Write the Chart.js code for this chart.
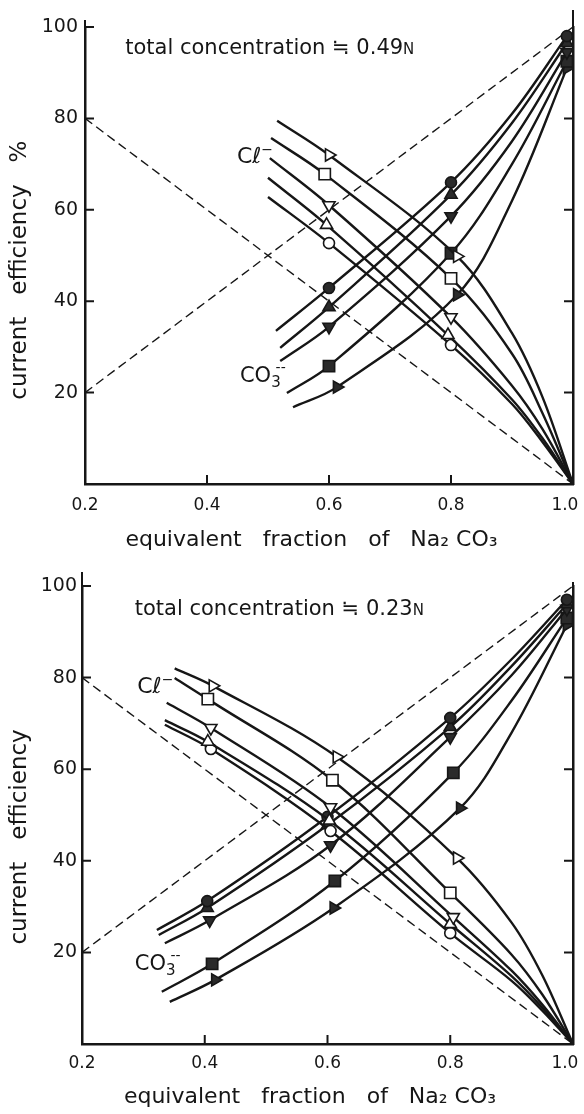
<!DOCTYPE html>
<html>
<head>
<meta charset="utf-8">
<script src="https://cdn.jsdelivr.net/npm/chart.js@4.4.1/dist/chart.umd.min.js"></script>
<style>
  html, body { margin: 0; padding: 0; background: #fff; }
  .box { position: relative; width: 584px; height: 557px; }
</style>
</head>
<body>
<div class="box"><canvas id="conc049"></canvas></div>
<div class="box"><canvas id="conc023"></canvas></div>
<script>
// axes shared by both panels
const xTicks = [0.2, 0.4, 0.6, 0.8, 1.0];
const yTicks = [20, 40, 60, 80, 100];
const innerXTicks = [0.4, 0.6, 0.8];
const guideX = [0.2, 1.0];
const guideRise = [20, 100];
const guideFall = [80, 0];

// total concentration 0.49 N : Cl- efficiency (open marks), [fraction, %]
const cl49Right  = [[0.515, 79.5], [0.6, 72.0], [0.81, 49.8], [0.9, 33], [0.95, 19], [1.0, 0]];
const cl49Square = [[0.505, 75.7], [0.593, 67.8], [0.8, 45.0], [0.9, 28.5], [0.95, 15.5], [1.0, 0]];
const cl49Down   = [[0.503, 71.3], [0.6, 61.0], [0.8, 36.5], [0.9, 21.5], [0.95, 12], [1.0, 0]];
const cl49Up     = [[0.5, 67.0], [0.596, 56.7], [0.795, 32.6], [0.9, 18.5], [0.95, 10], [1.0, 0]];
const cl49Ring   = [[0.5, 62.8], [0.6, 52.7], [0.8, 30.4], [0.9, 17.5], [0.95, 9.2], [1.0, 0]];
// CO3-- efficiency (filled marks)
const co49Dot    = [[0.513, 33.5], [0.6, 42.9], [0.8, 66.0], [0.9, 81], [0.99, 98]];
const co49Up     = [[0.52, 29.8], [0.6, 38.7], [0.8, 63.3], [0.9, 79], [0.99, 96.5]];
const co49Down   = [[0.52, 26.9], [0.6, 34.4], [0.8, 58.6], [0.9, 75], [0.99, 94.5]];
const co49Square = [[0.531, 19.9], [0.6, 25.8], [0.8, 50.5], [0.9, 70], [0.99, 92.5]];
const co49Right  = [[0.541, 16.8], [0.613, 21.2], [0.81, 41.4], [0.9, 62], [0.99, 91]];
const marks49Cl = [1, 2];
const marks49Co = [1, 2, 4];

// total concentration 0.23 N
const cl23Right  = [[0.351, 82.0], [0.413, 78.2], [0.615, 62.7], [0.811, 40.6], [0.9, 26.5], [0.95, 15], [1.0, 0]];
const cl23Square = [[0.351, 79.9], [0.405, 75.3], [0.608, 57.6], [0.8, 33.0], [0.9, 19.5], [0.95, 10.8], [1.0, 0]];
const cl23Down   = [[0.338, 74.5], [0.41, 69.0], [0.605, 51.7], [0.805, 27.7], [0.9, 16], [0.95, 8.6], [1.0, 0]];
const cl23Up     = [[0.335, 70.7], [0.405, 66.0], [0.603, 48.8], [0.8, 26.2], [0.9, 14.8], [0.95, 7.9], [1.0, 0]];
const cl23Ring   = [[0.335, 69.7], [0.41, 64.4], [0.605, 46.5], [0.8, 24.2], [0.9, 13.8], [0.95, 7.3], [1.0, 0]];
const co23Dot    = [[0.322, 24.9], [0.404, 31.2], [0.6, 49.6], [0.8, 71.2], [0.9, 84], [0.99, 97]];
const co23Up     = [[0.325, 23.8], [0.404, 29.7], [0.6, 47.8], [0.8, 69.2], [0.9, 82.5], [0.99, 96]];
const co23Down   = [[0.335, 22.0], [0.408, 27.0], [0.605, 43.4], [0.8, 67.0], [0.9, 80.5], [0.99, 95]];
const co23Square = [[0.33, 11.4], [0.412, 17.5], [0.612, 35.6], [0.805, 59.2], [0.9, 75], [0.99, 93]];
const co23Right  = [[0.343, 9.2], [0.417, 14.0], [0.61, 29.7], [0.816, 51.5], [0.9, 68], [0.99, 91.5]];
const marks23Cl = [1, 2, 3];
const marks23Co = [1, 2, 3, 5];

const INK = '#161616';
const FAMILY = "'DejaVu Sans', 'Liberation Sans', sans-serif";

const markShapes = {
    ring:   { style: 'circle', rot: 0, r: 5.5 },
    up:     { style: 'triangle', rot: 0, r: 7 },
    down:   { style: 'triangle', rot: 180, r: 7 },
    square: { style: 'rect', rot: 0, r: 8 },
    right:  { style: 'triangle', rot: 90, r: 7 }
};

function curve(points, shape, filled, marks) {
    const m = markShapes[shape];
    return {
        data: points.map(([x, y]) => ({ x, y })),
        borderColor: INK,
        borderWidth: 2.4,
        tension: 0.35,
        pointStyle: m.style,
        pointRotation: m.rot,
        pointRadius: ctx => marks.includes(ctx.dataIndex) ? m.r : 0,
        pointHoverRadius: 0,
        pointBackgroundColor: filled ? '#2a2a2a' : '#fff',
        pointBorderColor: INK,
        pointBorderWidth: 1.6,
        fill: false
    };
}

function guide(ys) {
    return {
        data: guideX.map((x, i) => ({ x, y: ys[i] })),
        borderColor: INK,
        borderWidth: 1.4,
        borderDash: [9, 5],
        pointRadius: 0,
        tension: 0
    };
}

// inward tick marks and the axis stubs above 100
const frame = {
    id: 'frame',
    afterDatasetsDraw(chart, args, opts) {
        const { ctx, chartArea: a, scales: { x, y } } = chart;
        const len = 9;
        ctx.save();
        ctx.strokeStyle = INK;
        ctx.lineWidth = 2;
        ctx.beginPath();
        yTicks.forEach(v => {
            const py = y.getPixelForValue(v);
            ctx.moveTo(a.left, py); ctx.lineTo(a.left + len, py);
            if (v < 100) { ctx.moveTo(a.right, py); ctx.lineTo(a.right - len, py); }
        });
        innerXTicks.forEach(v => {
            const px = x.getPixelForValue(v);
            ctx.moveTo(px, a.bottom); ctx.lineTo(px, a.bottom - len);
        });
        ctx.moveTo(a.left, a.top); ctx.lineTo(a.left, a.top - opts.ext[0]);
        ctx.moveTo(a.right, a.top); ctx.lineTo(a.right, a.top - opts.ext[1]);
        ctx.stroke();
        ctx.restore();
    }
};

// free text inside the plot: parts are [text, size, dy, keepX]
const notes = {
    id: 'notes',
    afterDraw(chart, args, opts) {
        const { ctx, scales: { x, y } } = chart;
        ctx.save();
        ctx.fillStyle = INK;
        ctx.textBaseline = 'alphabetic';
        opts.items.forEach(item => {
            let px = x.getPixelForValue(item.x);
            const py = y.getPixelForValue(item.y);
            item.parts.forEach(([text, size, dy, keepX]) => {
                ctx.font = size + 'px ' + FAMILY;
                ctx.fillText(text, px, py + dy);
                if (!keepX) px += ctx.measureText(text).width;
            });
        });
        ctx.restore();
    }
};

function drawPanel(id, cl, co, marksCl, marksCo, layout, items, yTitle) {
    const shapes = ['right', 'square', 'down', 'up', 'ring'];
    const datasets = [];
    cl.forEach((pts, i) => datasets.push(curve(pts, shapes[i], false, marksCl)));
    co.forEach((pts, i) => datasets.push(curve(pts, shapes[4 - i], true, marksCo)));
    datasets.push(guide(guideRise), guide(guideFall));

    new Chart(document.getElementById(id), {
        type: 'line',
        data: { datasets },
        options: {
            responsive: true,
            maintainAspectRatio: false,
            animation: false,
            events: [],
            layout: { padding: { top: layout.top, right: 11, left: 0, bottom: 0 } },
            plugins: {
                legend: { display: false },
                tooltip: { enabled: false },
                frame: { ext: layout.ext },
                notes: { items }
            },
            scales: {
                x: {
                    type: 'linear', min: 0.2, max: 1.0,
                    afterBuildTicks: s => { s.ticks = xTicks.map(v => ({ value: v })); },
                    ticks: {
                        // trailing spaces pull the last label back inside the page edge
                        callback: v => v === 1 ? '1.0   ' : v.toFixed(1),
                        font: { family: FAMILY, size: 17 }, color: INK,
                        padding: layout.xPad, maxRotation: 0, autoSkip: false
                    },
                    grid: { display: false, drawTicks: false },
                    border: { color: INK, width: 2.5 },
                    title: {
                        display: true,
                        text: 'equivalent   fraction   of   Na₂ CO₃     ',
                        font: { family: FAMILY, size: 22 }, color: INK,
                        padding: { top: 0, bottom: 4 }
                    },
                    afterFit: s => { s.height = layout.xHeight; s.paddingLeft = 0; s.paddingRight = 0; }
                },
                y: {
                    min: 0, max: 100,
                    afterBuildTicks: s => { s.ticks = [0].concat(yTicks).map(v => ({ value: v })); },
                    ticks: {
                        callback: v => v === 0 ? '' : v,
                        font: { family: FAMILY, size: 19 }, color: INK,
                        padding: layout.yPad
                    },
                    grid: { display: false, drawTicks: false },
                    border: { color: INK, width: 2.5 },
                    title: {
                        display: true, text: yTitle,
                        font: { family: FAMILY, size: 23 }, color: INK,
                        padding: { top: 6, bottom: 0 }
                    },
                    afterFit: s => { s.width = layout.yWidth; }
                },
                y2: {
                    position: 'right', min: 0, max: 100,
                    ticks: { display: false },
                    grid: { display: false, drawTicks: false },
                    border: { color: INK, width: 2.5 },
                    afterFit: s => { s.width = 0; }
                }
            }
        },
        plugins: [frame, notes]
    });
}

drawPanel('conc049',
    [cl49Right, cl49Square, cl49Down, cl49Up, cl49Ring],
    [co49Dot, co49Up, co49Down, co49Square, co49Right],
    marks49Cl, marks49Co,
    { top: 27, xHeight: 73, yWidth: 85, xPad: 11, yPad: 7, ext: [7, 17] },
    [
        { x: 0.266, y: 94, parts: [['total concentration ≒ 0.49', 21, 0], ['N', 15, 0]] },
        { x: 0.449, y: 70.2, parts: [['Cℓ', 22, 0], ['−', 14, -9]] },
        { x: 0.454, y: 22.3, parts: [['CO', 21, 0], ['3', 15, 5, true], [' --', 14, -10]] }
    ],
    'current   efficiency   %    ');

drawPanel('conc023',
    [cl23Right, cl23Square, cl23Down, cl23Up, cl23Ring],
    [co23Dot, co23Up, co23Down, co23Square, co23Right],
    marks23Cl, marks23Co,
    { top: 29, xHeight: 70, yWidth: 82, xPad: 9, yPad: 5, ext: [14, 4] },
    [
        { x: 0.286, y: 93.7, parts: [['total concentration ≒ 0.23', 21, 0], ['N', 15, 0]] },
        { x: 0.29, y: 76.6, parts: [['Cℓ', 22, 0], ['−', 14, -9]] },
        { x: 0.286, y: 16.2, parts: [['CO', 21, 0], ['3', 15, 5, true], [' --', 14, -10]] }
    ],
    'current   efficiency      ');
</script>
</body>
</html>
